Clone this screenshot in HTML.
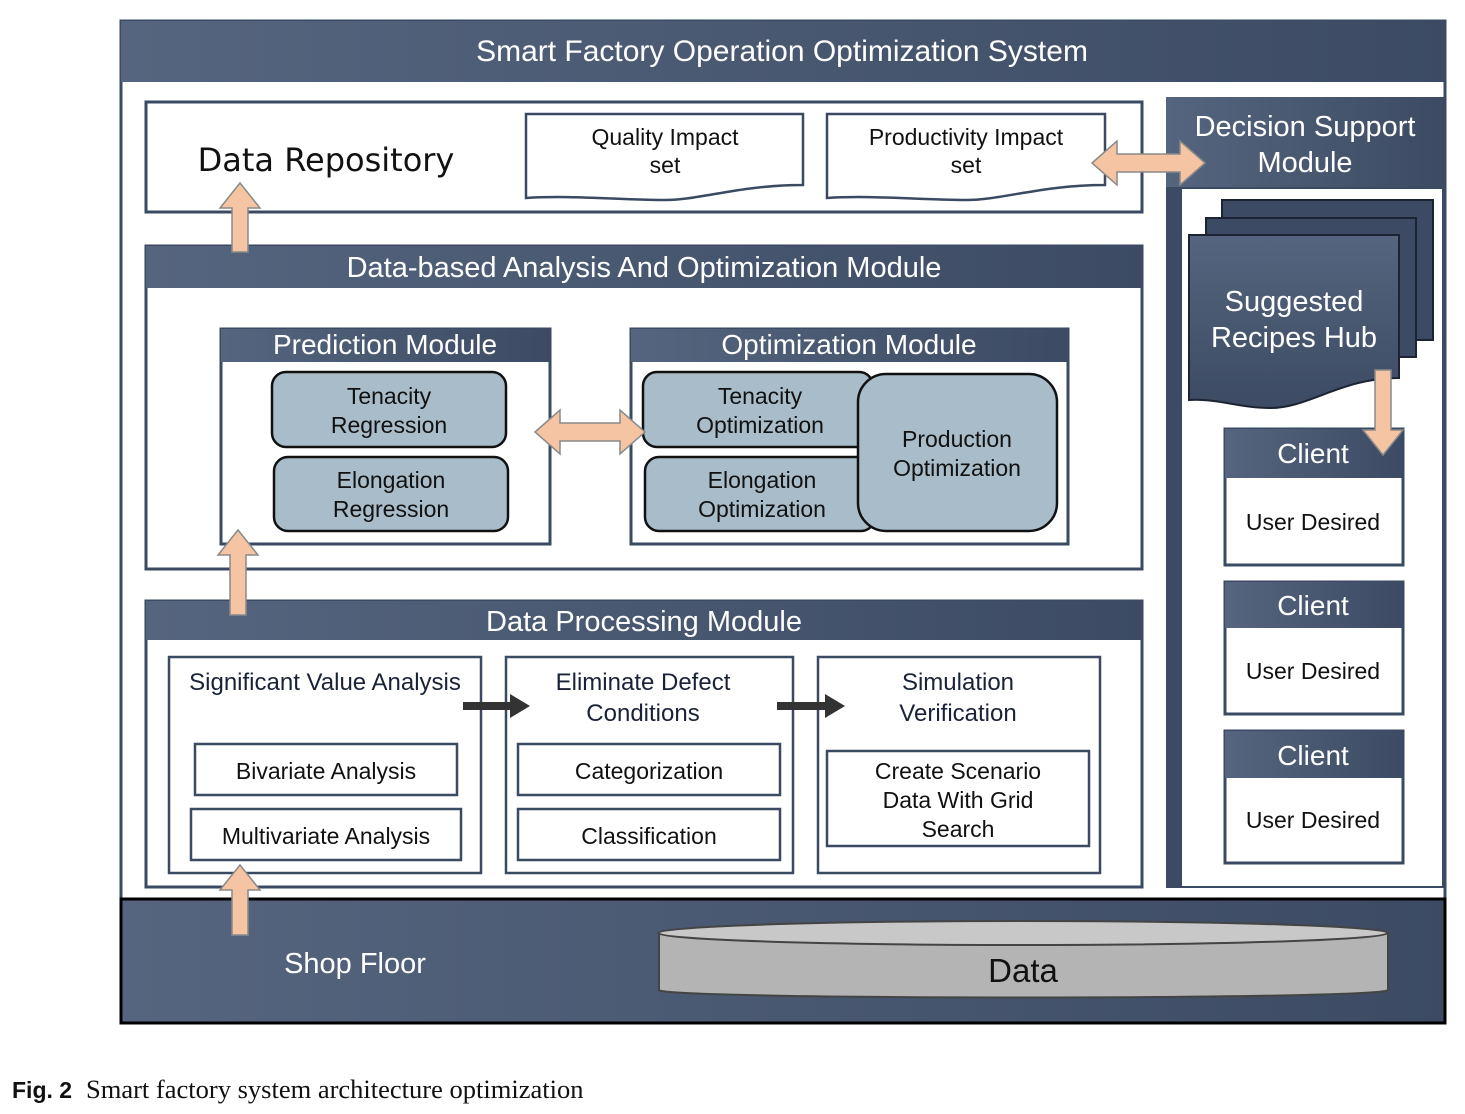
<!DOCTYPE html>
<html><head><meta charset="utf-8"><style>
html,body{margin:0;padding:0;background:#fff;}
svg{display:block;}
text{font-family:"Liberation Sans",sans-serif;}
</style></head><body>
<svg width="1465" height="1114" viewBox="0 0 1465 1114" xmlns="http://www.w3.org/2000/svg">
<defs>
<linearGradient id="g" x1="0" y1="0" x2="1" y2="0">
<stop offset="0" stop-color="#56657f"/><stop offset="1" stop-color="#3c4b63"/>
</linearGradient>
<linearGradient id="gv" x1="0" y1="0" x2="0" y2="1">
<stop offset="0" stop-color="#56657f"/><stop offset="1" stop-color="#3c4b63"/>
</linearGradient>
</defs>
<rect x="121" y="21" width="1324" height="1002" fill="#fff" stroke="#3a4a62" stroke-width="3"/>
<rect x="121" y="21" width="1324" height="61" fill="url(#g)"/>
<text x="782" y="61" font-size="30" fill="#fff" text-anchor="middle">Smart Factory Operation Optimization System</text>

<rect x="146" y="102" width="996" height="110" fill="#fff" stroke="#3a4a62" stroke-width="3"/>
<text x="326" y="171" font-size="32" fill="#111" text-anchor="middle" style="font-family:'DejaVu Sans',sans-serif">Data Repository</text>
<path d="M526,114 H803 V185 C740,185 700,200 665,200 C620,200 570,195 526,198 Z" fill="#fff" stroke="#3a4a62" stroke-width="2.5"/>
<text x="665" y="145" font-size="23" fill="#111" text-anchor="middle">Quality Impact</text>
<text x="665" y="173" font-size="23" fill="#111" text-anchor="middle">set</text>
<path d="M827,114 H1105 V185 C1042,185 1002,200 966,200 C921,200 871,195 827,198 Z" fill="#fff" stroke="#3a4a62" stroke-width="2.5"/>
<text x="966" y="145" font-size="23" fill="#111" text-anchor="middle">Productivity Impact</text>
<text x="966" y="173" font-size="23" fill="#111" text-anchor="middle">set</text>

<rect x="146" y="246" width="996" height="323" fill="#fff" stroke="#3a4a62" stroke-width="3"/>
<rect x="146" y="246" width="996" height="42" fill="url(#g)"/>
<text x="644" y="277" font-size="29" fill="#fff" text-anchor="middle">Data-based Analysis And Optimization Module</text>

<rect x="221" y="329" width="329" height="215" fill="#fff" stroke="#3a4a62" stroke-width="3"/>
<rect x="221" y="329" width="329" height="33" fill="url(#g)"/>
<text x="385" y="354" font-size="28" fill="#fff" text-anchor="middle">Prediction Module</text>
<rect x="272" y="372" width="234" height="75" rx="14" fill="#a8bcc9" stroke="#111" stroke-width="2.5"/>
<text x="389" y="404" font-size="23" fill="#111" text-anchor="middle">Tenacity</text>
<text x="389" y="433" font-size="23" fill="#111" text-anchor="middle">Regression</text>
<rect x="274" y="457" width="234" height="74" rx="14" fill="#a8bcc9" stroke="#111" stroke-width="2.5"/>
<text x="391" y="488" font-size="23" fill="#111" text-anchor="middle">Elongation</text>
<text x="391" y="517" font-size="23" fill="#111" text-anchor="middle">Regression</text>

<rect x="631" y="329" width="437" height="215" fill="#fff" stroke="#3a4a62" stroke-width="3"/>
<rect x="631" y="329" width="437" height="33" fill="url(#g)"/>
<text x="849" y="354" font-size="28" fill="#fff" text-anchor="middle">Optimization Module</text>
<rect x="643" y="372" width="230" height="75" rx="14" fill="#a8bcc9" stroke="#111" stroke-width="2.5"/>
<text x="760" y="404" font-size="23" fill="#111" text-anchor="middle">Tenacity</text>
<text x="760" y="433" font-size="23" fill="#111" text-anchor="middle">Optimization</text>
<rect x="645" y="457" width="230" height="74" rx="14" fill="#a8bcc9" stroke="#111" stroke-width="2.5"/>
<text x="762" y="488" font-size="23" fill="#111" text-anchor="middle">Elongation</text>
<text x="762" y="517" font-size="23" fill="#111" text-anchor="middle">Optimization</text>
<rect x="858" y="374" width="199" height="157" rx="28" fill="#a8bcc9" stroke="#111" stroke-width="2.5"/>
<text x="957" y="447" font-size="23" fill="#111" text-anchor="middle">Production</text>
<text x="957" y="476" font-size="23" fill="#111" text-anchor="middle">Optimization</text>

<rect x="146" y="601" width="996" height="286" fill="#fff" stroke="#3a4a62" stroke-width="3"/>
<rect x="146" y="601" width="996" height="39" fill="url(#g)"/>
<text x="644" y="631" font-size="29" fill="#fff" text-anchor="middle">Data Processing Module</text>

<g fill="#fff" stroke="#3a4a62" stroke-width="2.5">
<rect x="169" y="657" width="312" height="216"/>
<rect x="506" y="657" width="287" height="216"/>
<rect x="818" y="657" width="282" height="216"/>
<rect x="195" y="744" width="262" height="51"/>
<rect x="191" y="809" width="270" height="51"/>
<rect x="518" y="744" width="262" height="51"/>
<rect x="518" y="809" width="262" height="51"/>
<rect x="827" y="751" width="262" height="95"/>
</g>
<g font-size="24" fill="#1a2238" text-anchor="middle">
<text x="325" y="690">Significant Value Analysis</text>
<text x="643" y="690">Eliminate Defect</text>
<text x="643" y="721">Conditions</text>
<text x="958" y="690">Simulation</text>
<text x="958" y="721">Verification</text>
<text x="326" y="779" fill="#111" font-size="23">Bivariate Analysis</text>
<text x="326" y="844" fill="#111" font-size="23">Multivariate Analysis</text>
<text x="649" y="779" fill="#111" font-size="23">Categorization</text>
<text x="649" y="844" fill="#111" font-size="23">Classification</text>
<text x="958" y="779" fill="#111" font-size="23">Create Scenario</text>
<text x="958" y="808" fill="#111" font-size="23">Data With Grid</text>
<text x="958" y="837" fill="#111" font-size="23">Search</text>
</g>
<polygon points="463,702 510,702 510,694 530,706 510,718 510,710 463,710" fill="#333"/>
<polygon points="777,702 825,702 825,694 845,706 825,718 825,710 777,710" fill="#333"/>

<rect x="1166" y="97" width="279" height="791" fill="#3c4b63"/>
<rect x="1166" y="97" width="279" height="90" fill="url(#g)"/>
<rect x="1181" y="188" width="262" height="699" fill="#fff" stroke="#3a4a62" stroke-width="2"/>
<text x="1305" y="136" font-size="29" fill="#fff" text-anchor="middle">Decision Support</text>
<text x="1305" y="172" font-size="29" fill="#fff" text-anchor="middle">Module</text>
<rect x="1222" y="200" width="211" height="140" fill="#3c4b63" stroke="#1c2434" stroke-width="2"/>
<rect x="1206" y="218" width="210" height="139" fill="#3c4b63" stroke="#1c2434" stroke-width="2"/>
<path d="M1189,235 H1399 V378 C1340,378 1310,408 1270,408 C1240,408 1215,398 1189,400 Z" fill="url(#gv)" stroke="#1c2434" stroke-width="2"/>
<text x="1294" y="311" font-size="29" fill="#fff" text-anchor="middle">Suggested</text>
<text x="1294" y="347" font-size="29" fill="#fff" text-anchor="middle">Recipes Hub</text>

<g stroke="#3a4a62" stroke-width="3" fill="#fff">
<rect x="1225" y="429" width="178" height="136"/>
<rect x="1225" y="582" width="178" height="132"/>
<rect x="1225" y="731" width="178" height="132"/>
</g>
<rect x="1225" y="429" width="178" height="49" fill="url(#g)"/>
<rect x="1225" y="582" width="178" height="46" fill="url(#g)"/>
<rect x="1225" y="731" width="178" height="47" fill="url(#g)"/>
<g font-size="28" fill="#fff" text-anchor="middle">
<text x="1313" y="463">Client</text>
<text x="1313" y="615">Client</text>
<text x="1313" y="765">Client</text>
</g>
<g font-size="23" fill="#111" text-anchor="middle">
<text x="1313" y="530">User Desired</text>
<text x="1313" y="679">User Desired</text>
<text x="1313" y="828">User Desired</text>
</g>

<rect x="121" y="899" width="1324" height="124" fill="url(#g)" stroke="#000" stroke-width="3"/>
<text x="355" y="973" font-size="29" fill="#fff" text-anchor="middle">Shop Floor</text>
<path d="M659,933 V990 C659,1000 1388,1000 1388,990 V933" fill="#b4b4b4" stroke="#444" stroke-width="2"/>
<ellipse cx="1023" cy="933" rx="365" ry="12" fill="#c8c8c8" stroke="#444" stroke-width="2"/>
<text x="1023" y="982" font-size="33" fill="#111" text-anchor="middle">Data</text>

<g fill="#f5c4a2" stroke="#8a8a8a" stroke-width="1.5">
<polygon points="232,252 232,208 220,208 240,183 260,208 248,208 248,252"/>
<polygon points="230,615 230,555 218,555 238,530 258,555 246,555 246,615"/>
<polygon points="232,935 232,890 220,890 240,865 260,890 248,890 248,935"/>
<polygon points="1092,163 1117,141 1117,154 1180,154 1180,141 1205,163 1180,185 1180,172 1117,172 1117,185"/>
<polygon points="535,432 560,410 560,423 620,423 620,410 645,432 620,454 620,441 560,441 560,454"/>
<polygon points="1375,370 1391,370 1391,430 1403,430 1383,455 1363,430 1375,430"/>
</g>

<text x="12" y="1098" font-size="23" fill="#111" font-weight="bold">Fig. 2</text>
<text x="86" y="1098" font-size="26.5" fill="#111" style="font-family:'Liberation Serif',serif">Smart factory system architecture optimization</text>
</svg>
</body></html>
